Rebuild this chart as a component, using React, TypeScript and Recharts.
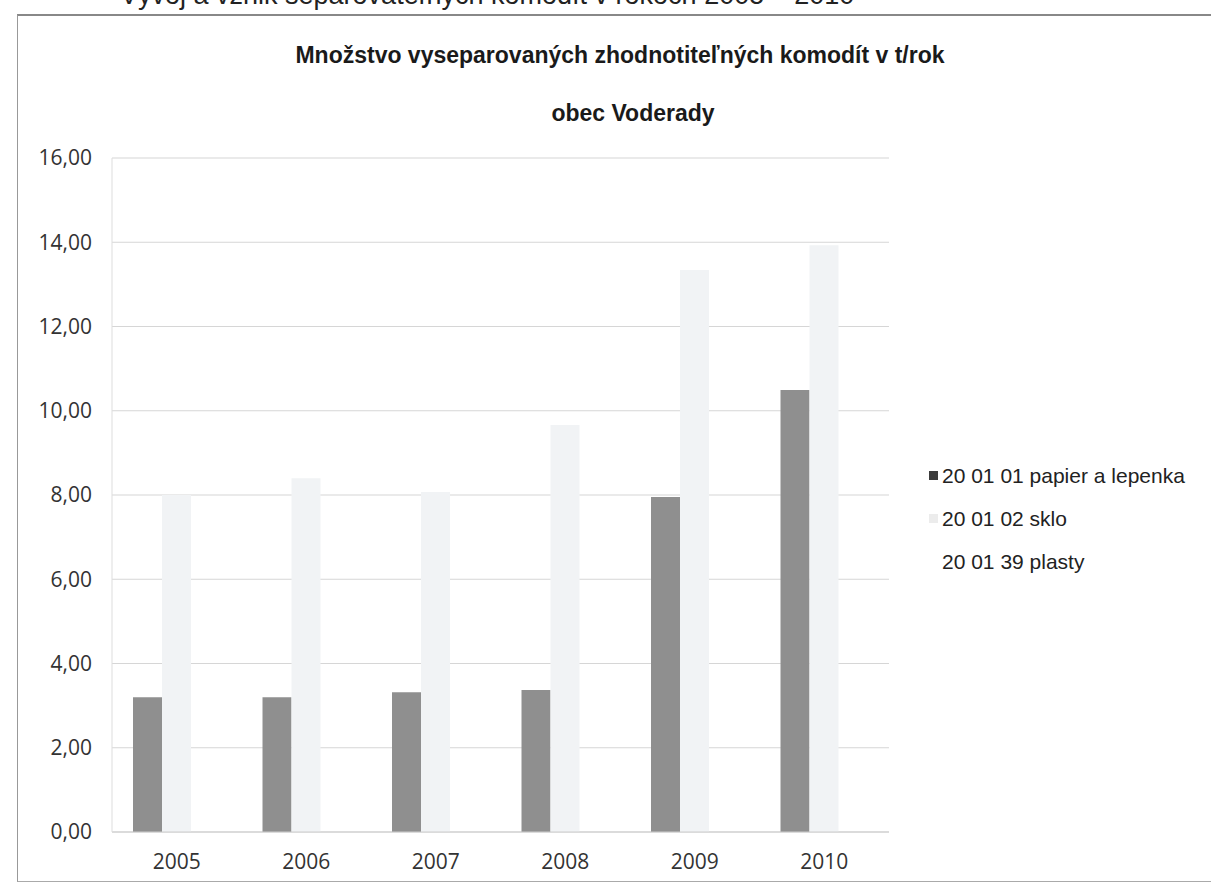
import React from 'react';
import { BarChart, Bar, XAxis, YAxis, CartesianGrid, Legend } from 'recharts';

const years = ['2005', '2006', '2007', '2008', '2009', '2010'];
const papier = [3.2, 3.2, 3.32, 3.37, 7.95, 10.49];
const sklo = [8.0, 8.4, 8.07, 9.66, 13.34, 13.93];
const plasty = [0, 0, 0, 0, 0, 0];
const yTicks = [0, 2, 4, 6, 8, 10, 12, 14, 16];
const seriesNames = ['20 01 01 papier a lepenka', '20 01 02 sklo', '20 01 39 plasty'];
const markerColors = ['#3c3c3c', '#ececec', '#ffffff'];

const data = years.map((y, i) => ({
  year: y,
  papier: papier[i],
  sklo: sklo[i],
  plasty: plasty[i],
}));

const fmt = (v: number) => v.toFixed(2).replace('.', ',');

const LegendContent = () => (
  <div style={{ fontFamily: '"Liberation Sans", Arial, sans-serif', fontSize: 21, color: '#222' }}>
    {seriesNames.map((n, i) => (
      <div key={n} style={{ display: 'flex', alignItems: 'center', height: 43 }}>
        <span style={{ display: 'inline-block', width: 9, height: 9, background: markerColors[i], marginRight: 4 }} />
        <span>{n}</span>
      </div>
    ))}
  </div>
);

export default function App() {
  return (
    <div style={{ position: 'absolute', left: 0, top: 0, width: 1211, height: 896, background: '#fff', overflow: 'hidden' }}>
      <div
        style={{
          position: 'absolute',
          left: 120,
          top: -18,
          fontFamily: '"Liberation Sans", Arial, sans-serif',
          fontSize: 27,
          lineHeight: '27px',
          color: '#222',
          whiteSpace: 'nowrap',
        }}
      >
        Vývoj a vznik separovateľných komodít v rokoch 2005 – 2010
      </div>
      <div
        style={{
          position: 'absolute',
          left: 17,
          top: 14,
          width: 1220,
          height: 868,
          borderTop: '2px solid #888',
          borderLeft: '1.5px solid #999',
          borderBottom: '1.5px solid #aaa',
          boxSizing: 'border-box',
        }}
      />
      <div
        style={{
          position: 'absolute',
          left: 0,
          width: 1240,
          top: 42,
          textAlign: 'center',
          fontFamily: '"Liberation Sans", Arial, sans-serif',
          fontWeight: 'bold',
          fontSize: 23,
          color: '#1a1a1a',
          transform: 'scaleY(1.05)',
        }}
      >
        Množstvo vyseparovaných zhodnotiteľných komodít v t/rok
      </div>
      <div
        style={{
          position: 'absolute',
          left: 0,
          width: 1266,
          top: 100,
          textAlign: 'center',
          fontFamily: '"Liberation Sans", Arial, sans-serif',
          fontWeight: 'bold',
          fontSize: 23,
          color: '#1a1a1a',
          transform: 'scaleY(1.05)',
        }}
      >
        obec Voderady
      </div>
      <div style={{ position: 'absolute', left: 0, top: 0 }}>
        <BarChart
          width={1211}
          height={896}
          data={data}
          margin={{ top: 158, right: 322, bottom: 14, left: 12 }}
          barCategoryGap={21}
          barGap={0}
        >
          <CartesianGrid vertical={false} stroke="#d6d6d6" strokeWidth={1.2} />
          <XAxis
            dataKey="year"
            height={50}
            tickLine={false}
            axisLine={{ stroke: '#cccccc' }}
            tickSize={0}
            tickMargin={22}
            tick={{ fontFamily: '"Open Sans", sans-serif', fontSize: 21, fill: '#333' }}
          />
          <YAxis
            width={100}
            domain={[0, 16]}
            ticks={yTicks}
            interval={0}
            tickFormatter={fmt}
            tickLine={false}
            tickSize={0}
            tickMargin={20}
            axisLine={{ stroke: '#dddddd' }}
            tick={{ fontFamily: '"Open Sans", sans-serif', fontSize: 21, fill: '#333' }}
          />
          <Legend
            layout="vertical"
            align="center"
            verticalAlign="middle"
            content={<LegendContent />}
            wrapperStyle={{ position: 'absolute', left: 929, top: 454, width: 282 }}
          />
          <Bar dataKey="papier" name={seriesNames[0]} fill="#8f8f8f" isAnimationActive={false} />
          <Bar dataKey="sklo" name={seriesNames[1]} fill="#f1f3f5" isAnimationActive={false} />
          <Bar dataKey="plasty" name={seriesNames[2]} fill="#ffffff" isAnimationActive={false} />
        </BarChart>
      </div>
    </div>
  );
}
